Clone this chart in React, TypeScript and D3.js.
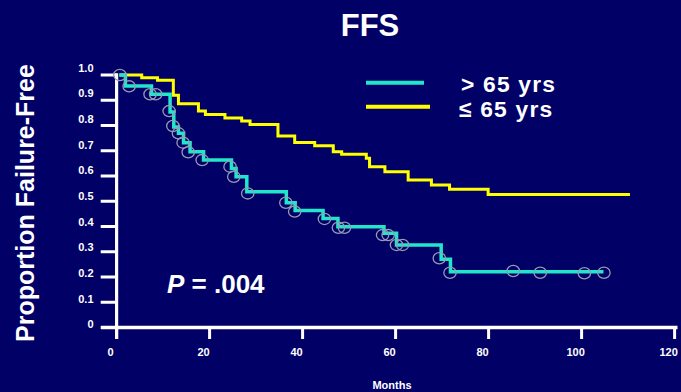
import React from "react";
import * as d3 from "d3";

const W = 681;
const H = 392;

const title = "FFS";
const yTitle = "Proportion Failure-Free";
const xTitle = "Months";
const pText = ".004";

const xTicks = [0, 20, 40, 60, 80, 100, 120];
const yTicks = [0, 0.1, 0.2, 0.3, 0.4, 0.5, 0.6, 0.7, 0.8, 0.9, 1.0];
const yTickLabels = ["0", "0.1", "0.2", "0.3", "0.4", "0.5", "0.6", "0.7", "0.8", "0.9", "1.0"];

const seriesNames = ["> 65 yrs", "\u2264 65 yrs"];
const seriesColors = ["#22e6cc", "#ffff00"];

// > 65 yrs step curve
const oldMonths = [0.6, 1.9, 7.5, 11.5, 12.3, 13.3, 14.4, 15.8, 18.7, 24.7, 25.7, 28.0, 36.5, 38.4, 44.4, 47.6, 57.5, 60.2, 69.8, 71.8, 104.7];
const oldSurv = [1.0, 0.956, 0.924, 0.853, 0.794, 0.769, 0.732, 0.696, 0.663, 0.63, 0.597, 0.538, 0.494, 0.463, 0.432, 0.399, 0.373, 0.327, 0.27, 0.221, 0.221];

// > 65 yrs censored marks
const censorMonths = [0.7, 2.7, 7.2, 8.4, 11.3, 12.1, 13.3, 14.3, 15.4, 18.4, 24.4, 25.2, 28.2, 36.4, 38.3, 44.7, 47.7, 49.0, 57.2, 58.4, 60.2, 61.5, 69.4, 71.7, 85.3, 91.1, 100.6, 104.8];
const censorSurv = [1.0, 0.955, 0.924, 0.924, 0.857, 0.798, 0.769, 0.732, 0.694, 0.663, 0.637, 0.597, 0.531, 0.494, 0.459, 0.43, 0.395, 0.395, 0.366, 0.366, 0.327, 0.327, 0.274, 0.217, 0.224, 0.217, 0.215, 0.217];

// <= 65 yrs step curve
const youngMonths = [0.6, 5.4, 8.8, 12.2, 13.3, 17.6, 19.1, 23.3, 26.9, 28.7, 34.7, 38.3, 42.6, 46.6, 48.4, 53.7, 54.4, 57.7, 62.7, 67.7, 71.6, 79.9, 110.4];
const youngSurv = [1.0, 0.989, 0.979, 0.92, 0.886, 0.857, 0.844, 0.83, 0.818, 0.804, 0.758, 0.733, 0.72, 0.696, 0.686, 0.67, 0.637, 0.617, 0.584, 0.564, 0.548, 0.527, 0.527];

const FONT = "'Liberation Sans', Arial, Helvetica, sans-serif";

export default function App() {
  const x = d3.scaleLinear().domain([0, 120]).range([116.6, 674.6]);
  const y = d3.scaleLinear().domain([0, 1]).range([327.5, 75]);
  const yLab = d3.scaleLinear().domain([0, 1]).range([324.3, 67.7]);

  const line = d3
    .line<[number, number]>()
    .x((d) => x(d[0]))
    .y((d) => y(d[1]))
    .curve(d3.curveStepAfter);

  const oldPts = oldMonths.map((m, i) => [m, oldSurv[i]] as [number, number]);
  const youngPts = youngMonths.map((m, i) => [m, youngSurv[i]] as [number, number]);

  return (
    <div>
      <style>{`body{margin:0;background:#000066;}`}</style>
      <svg width={W} height={H} style={{ display: "block" }} fontFamily={FONT}>
        <rect x={0} y={0} width={W} height={H} fill="#000066" />
        <text x={370} y={36} textAnchor="middle" fill="#fff" fontSize={31} fontWeight="bold">
          {title}
        </text>

        {/* y axis title */}
        <text
          transform="translate(34,203) rotate(-90)"
          textAnchor="middle"
          fill="#fff"
          fontSize={25}
          fontWeight="bold"
        >
          {yTitle}
        </text>

        {/* axes */}
        <line x1={x(0)} x2={x(0)} y1={73.3} y2={339} stroke="#fff" strokeWidth={3.2} />
        <line x1={101} x2={677.5} y1={y(0)} y2={y(0)} stroke="#fff" strokeWidth={3.6} />
        {yTicks.map((t, i) => (
          <g key={"yt" + i}>
            <line x1={100.7} x2={x(0)} y1={y(t)} y2={y(t)} stroke="#fff" strokeWidth={3} />
            <text x={93.5} y={yLab(t) + 4} textAnchor="end" fill="#fff" fontSize={11} fontWeight="bold">
              {yTickLabels[i]}
            </text>
          </g>
        ))}
        {xTicks.map((t, i) => (
          <g key={"xt" + i}>
            <line x1={x(t)} x2={x(t)} y1={y(0)} y2={339} stroke="#fff" strokeWidth={3} />
            <text x={x(t) - 6} y={356} textAnchor="middle" fill="#fff" fontSize={11} fontWeight="bold">
              {String(t)}
            </text>
          </g>
        ))}
        <text x={392} y={389} textAnchor="middle" fill="#fff" fontSize={11} fontWeight="bold">
          {xTitle}
        </text>

        {/* curves */}
        <path d={line(youngPts) || ""} fill="none" stroke={seriesColors[1]} strokeWidth={3} />
        <path d={line(oldPts) || ""} fill="none" stroke={seriesColors[0]} strokeWidth={3.5} />
        {censorMonths.map((m, i) => (
          <ellipse
            key={"c" + i}
            cx={x(m)}
            cy={y(censorSurv[i])}
            rx={6.2}
            ry={5.6}
            fill="none"
            stroke="#9a9ab4"
            strokeWidth={1.3}
          />
        ))}

        {/* legend */}
        <line x1={366} x2={424} y1={82.7} y2={82.7} stroke={seriesColors[0]} strokeWidth={4} />
        <line x1={366} x2={430} y1={106.7} y2={106.7} stroke={seriesColors[1]} strokeWidth={4} />
        <text x={461} y={91.5} fill="#fff" fontSize={22.8} fontWeight="bold" letterSpacing={1.2}>
          {seriesNames[0]}
        </text>
        <text x={459} y={117} fill="#fff" fontSize={22.8} fontWeight="bold" letterSpacing={1.2}>
          {seriesNames[1]}
        </text>

        {/* p value */}
        <text x={167} y={293} fill="#fff" fontSize={26} fontWeight="bold">
          <tspan fontStyle="italic">P</tspan>
          <tspan>{" = " + pText}</tspan>
        </text>
      </svg>
    </div>
  );
}
